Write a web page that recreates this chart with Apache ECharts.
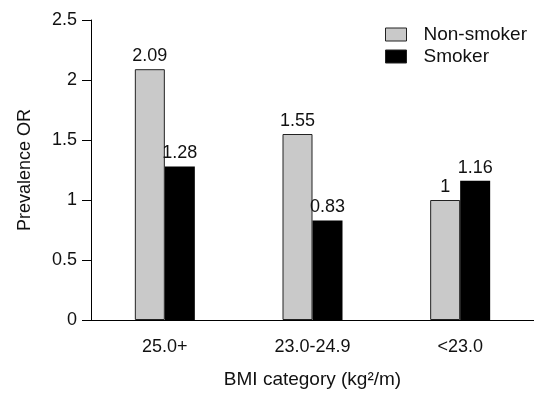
<!DOCTYPE html>
<html>
<head>
<meta charset="utf-8">
<script src="https://cdn.jsdelivr.net/npm/echarts@6/dist/echarts.min.js"></script>
<style>
  html, body { margin: 0; padding: 0; background: #fff; }
  #chart { width: 534px; height: 394px; }
</style>
</head>
<body>
<div id="chart"></div>
<script>
var categories = ['25.0+', '23.0-24.9', '<23.0'];
var nonSmoker = [2.09, 1.55, 1];
var smoker = [1.28, 0.83, 1.16];
var yTicks = [0, 0.5, 1, 1.5, 2, 2.5];

var font = 'Liberation Sans, Arial, sans-serif';
var chart = echarts.init(document.getElementById('chart'));

var option = {
  animation: false,
  textStyle: { fontFamily: font },
  legend: {
    orient: 'vertical',
    left: 380,
    top: 20,
    icon: 'rect',
    itemWidth: 21,
    itemHeight: 13,
    itemGap: 3,
    itemStyle: { borderColor: '#222', borderWidth: 1 },
    textStyle: { fontSize: 19, color: '#111', fontFamily: font, padding: [0, 0, 0, 12] },
    data: ['Non-smoker', 'Smoker']
  },
  grid: { left: 91, top: 20, width: 449, height: 302 },
  xAxis: {
    type: 'category',
    data: categories,
    name: 'BMI category (kg²/m)',
    nameLocation: 'middle',
    nameGap: 50,
    nameTextStyle: { fontSize: 19, color: '#111' },
    axisLine: { lineStyle: { color: '#000', width: 1 } },
    axisTick: { length: 7, lineStyle: { color: '#000' } },
    axisLabel: { fontSize: 18, color: '#111', margin: 18 }
  },
  yAxis: {
    type: 'value',
    min: yTicks[0],
    max: yTicks[yTicks.length - 1],
    interval: 0.5,
    name: 'Prevalence OR',
    nameLocation: 'middle',
    nameGap: 57,
    nameTextStyle: { fontSize: 18, color: '#111' },
    splitLine: { show: false },
    axisLine: { show: true, lineStyle: { color: '#000', width: 1 } },
    axisTick: { show: true, length: 9, lineStyle: { color: '#000' } },
    axisLabel: { fontSize: 18, color: '#111', margin: 14 }
  },
  series: [
    {
      name: 'Non-smoker',
      type: 'bar',
      data: nonSmoker,
      barWidth: 30,
      barGap: '0%',
      itemStyle: { color: '#c9c9c9', borderColor: '#222', borderWidth: 1 },
      label: { show: true, position: 'top', fontSize: 18, color: '#111', distance: 4 }
    },
    {
      name: 'Smoker',
      type: 'bar',
      data: smoker,
      barWidth: 30,
      barGap: '0%',
      itemStyle: { color: '#000' },
      label: { show: true, position: 'top', fontSize: 18, color: '#111', distance: 4 }
    }
  ]
};

chart.setOption(option);
</script>
</body>
</html>
